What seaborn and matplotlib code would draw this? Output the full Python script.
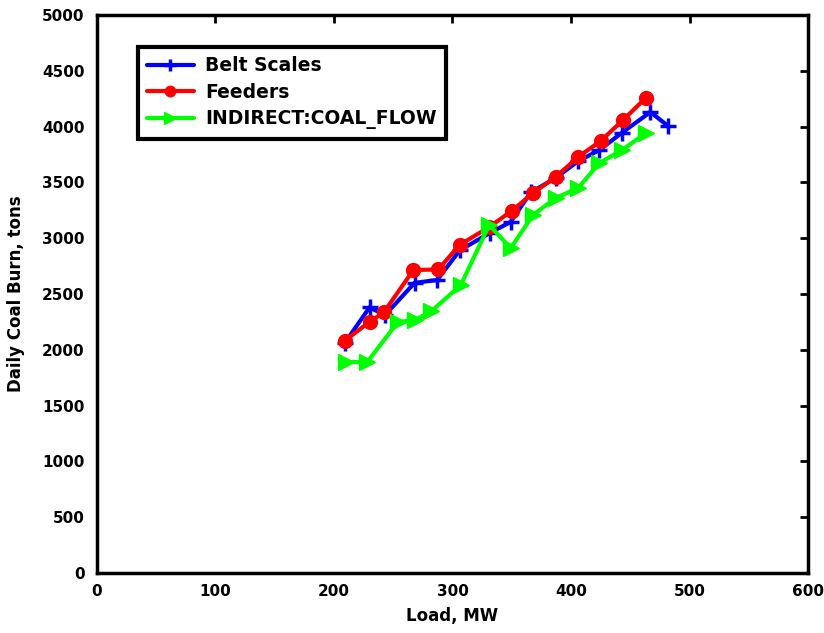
import matplotlib
matplotlib.use("Agg")
import matplotlib.pyplot as plt
import seaborn as sns
import pandas as pd

# Data
belt_x = [209, 230, 243, 268, 287, 306, 332, 349, 366, 387, 406, 424, 443, 467, 482]
belt_y = [2060, 2380, 2310, 2600, 2625, 2890, 3050, 3145, 3410, 3540, 3690, 3790, 3945, 4130, 4005]

feed_x = [209, 230, 242, 267, 288, 306, 331, 350, 368, 387, 406, 425, 444, 463]
feed_y = [2080, 2250, 2335, 2715, 2720, 2940, 3100, 3245, 3405, 3548, 3728, 3871, 4060, 4256]

ind_x = [210, 228, 254, 268, 282, 307, 331, 349, 368, 387, 406, 424, 443, 463]
ind_y = [1890, 1890, 2250, 2265, 2345, 2580, 3120, 2910, 3208, 3360, 3450, 3674, 3790, 3940]

x_ticks = [0, 100, 200, 300, 400, 500, 600]
y_ticks = [0, 500, 1000, 1500, 2000, 2500, 3000, 3500, 4000, 4500, 5000]

sns.set_theme(style="white")
plt.rcParams['font.family'] = ['DejaVu Sans']
plt.rcParams['font.weight'] = 'bold'
plt.rcParams['text.color'] = 'black'
plt.rcParams['axes.labelcolor'] = 'black'
plt.rcParams['xtick.color'] = 'black'
plt.rcParams['ytick.color'] = 'black'

df = pd.concat([
    pd.DataFrame({"x": belt_x, "y": belt_y, "s": "Belt Scales"}),
    pd.DataFrame({"x": feed_x, "y": feed_y, "s": "Feeders"}),
    pd.DataFrame({"x": ind_x, "y": ind_y, "s": "INDIRECT:COAL_FLOW"}),
])

fig = plt.figure(figsize=(8.24, 6.33), dpi=100)
ax = fig.add_axes([0.1177, 0.0948, 0.8629, 0.8815])

styles = {
    "Belt Scales": dict(color="#0000ff", marker="+", markersize=11, markeredgewidth=2.5),
    "Feeders": dict(color="#ff0000", marker="o", markersize=10, markeredgewidth=1),
    "INDIRECT:COAL_FLOW": dict(color="#00ff00", marker=">", markersize=11, markeredgewidth=1),
}
for name in ["Belt Scales", "Feeders", "INDIRECT:COAL_FLOW"]:
    sub = df[df["s"] == name]
    st = styles[name]
    sns.lineplot(data=sub, x="x", y="y", ax=ax, sort=False, estimator=None,
                 color=st["color"], linewidth=3, marker=st["marker"],
                 markersize=st["markersize"], markeredgewidth=st["markeredgewidth"],
                 markeredgecolor=st["color"], markerfacecolor=st["color"], label=name)

ax.set_xlim(0, 600)
ax.set_ylim(0, 5000)
ax.set_xticks(x_ticks)
ax.set_yticks(y_ticks)
ax.tick_params(direction="in", length=6, width=2, labelsize=11, top=True, right=True,
               colors="black")
ax.tick_params(axis="x", pad=8)
ax.tick_params(axis="y", pad=9)
for lbl in ax.get_xticklabels() + ax.get_yticklabels():
    lbl.set_fontweight("bold")
for sp in ax.spines.values():
    sp.set_linewidth(2.5)
    sp.set_color("black")
ax.set_xlabel("Load, MW", fontsize=12, fontweight="bold", labelpad=6, color="black")
ax.set_ylabel("Daily Coal Burn, tons", fontsize=12, fontweight="bold", labelpad=12,
              color="black")

leg = ax.legend(loc="upper left", bbox_to_anchor=(0.057, 0.943), fontsize=13.5,
                frameon=True, fancybox=False, handlelength=2.5, borderpad=0.5,
                labelspacing=0.4, handletextpad=0.6, borderaxespad=0.0,
                markerscale=0.75, framealpha=1.0)
leg.get_frame().set_edgecolor("black")
leg.get_frame().set_linewidth(3)
for t in leg.get_texts():
    t.set_fontweight("bold")
    t.set_color("black")

fig.savefig("out.png", dpi=100)
